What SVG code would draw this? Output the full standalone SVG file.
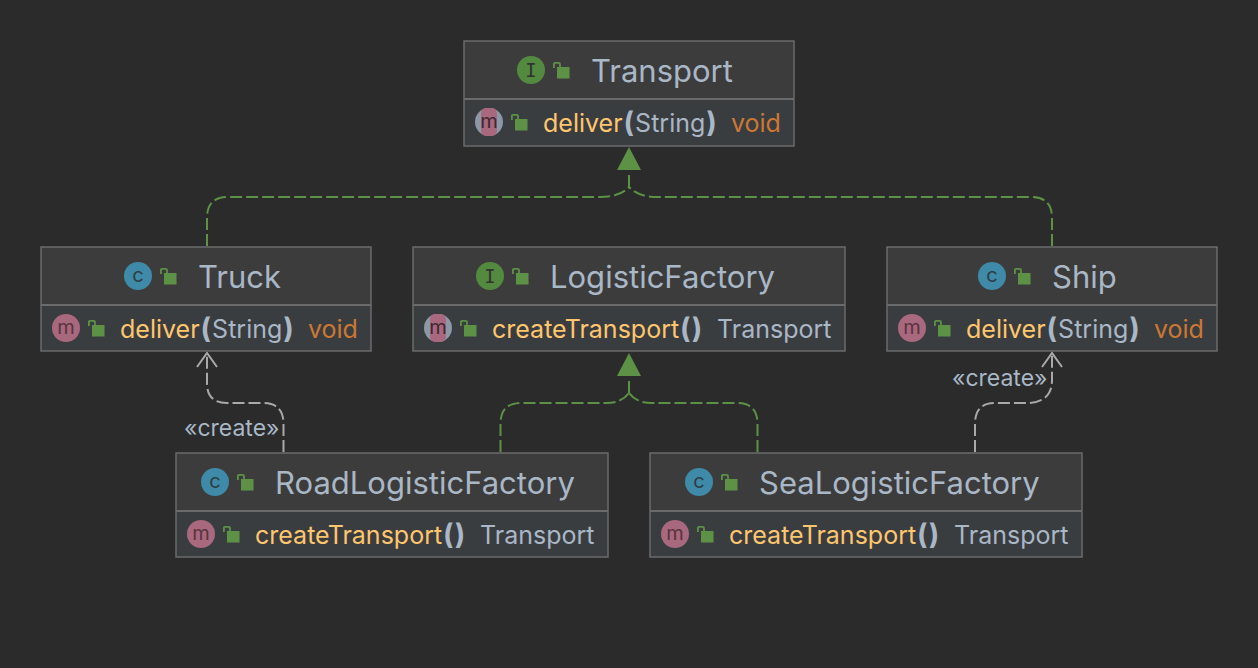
<svg xmlns="http://www.w3.org/2000/svg" width="1258" height="668" viewBox="0 0 1258 668">
<style>
text{font-family:"Inter","Noto Sans","Liberation Sans",sans-serif}
.box{fill:#3a3d40;stroke:#6b6b6b;stroke-width:1.5}
.head{fill:#3c3c3c}
.div{stroke:#6b6b6b;stroke-width:2}
.title{font-size:31px;fill:#a9b7c6}
.m{font-size:25px;fill:#ffc66d}
.p{font-size:25px;fill:#a9b7c6}
.b{font-size:28px;fill:#a9b7c6;font-weight:700}
.v{font-size:25px;fill:#cc7832}
.st{font-size:23px;fill:#a9b7c6}
.g{fill:none;stroke:#5c9146;stroke-width:2;stroke-dasharray:12 4}
.w{fill:none;stroke:#a9a9a9;stroke-width:2;stroke-dasharray:12 4}
.gl{fill:#5c9146;stroke:none}
.o{fill:none;stroke:#a9a9a9;stroke-width:2}
text.ig{font-size:20px;text-anchor:middle}
text.ii{font-family:"DejaVu Sans Mono","Liberation Mono",monospace;font-size:19px;text-anchor:middle}
</style>
<defs>
<g id="lock"><path d="M0.9 6V1.8Q0.9 0.9 2 0.9H5.500Q7 0.9 7 2.200V5" fill="none" stroke="#5c9146" stroke-width="1.800"/><rect x="4" y="5" width="12.500" height="11.500" fill="#5c9146"/></g>
<g id="ci"><circle r="14" fill="#548a3f"/><text class="ii" y="6.500" fill="#333">I</text></g>
<g id="cc"><circle r="14" fill="#3e8aa8"/><text class="ig" y="6" fill="#2f3d44">c</text></g>
<g id="cm"><circle r="14" fill="#a8687e"/><text class="ig" y="6" fill="#5a333f">m</text></g>
<g id="ca"><circle r="14" fill="#8b98a6"/><rect x="-8" y="-14" width="16" height="28" rx="5" fill="#a8687e"/><text class="ig" y="6" fill="#3f2730">m</text></g>
</defs>
<rect width="1258" height="668" fill="#2b2b2b"/>
<g id="connectors">
<path class="g" d="M207 246V218Q207 197 228 197H600Q620 197 629 187"/>
<path class="g" d="M1052 246V218Q1052 197 1031 197H658Q638 197 629 187"/>
<path class="g" d="M629 187V172"/>
<path class="gl" d="M629 147L641 170H617Z"/>
<path class="g" d="M500.500 452V424Q500.500 403 521 403H606Q622 403 629 393"/>
<path class="g" d="M757.500 452V424Q757.500 403 737 403H652Q636 403 629 393"/>
<path class="g" d="M629 393V378"/>
<path class="gl" d="M629 353L641 376H617Z"/>
<path class="w" d="M283.500 452V424Q283.500 403 263 403H227Q207 403 207 383V353"/>
<path class="o" d="M197 367L207 353L217 367"/>
<path class="w" d="M975 452V424Q975 403 995 403H1030Q1052 401 1052 380V353"/>
<path class="o" d="M1042 367L1052 353L1062 367"/>
<text class="st" x="184" y="436">«create»</text>
<text class="st" x="952" y="386">«create»</text>
</g>
<g id="transport">
<rect class="box" x="464" y="41" width="330" height="105"/><rect class="head" x="465" y="42" width="328" height="57"/><path class="div" d="M464 99H794"/>
<use href="#ci" x="531" y="70"/><use href="#lock" x="553" y="62"/><text class="title" x="591" y="82">Transport</text>
<use href="#ca" x="489" y="122"/><use href="#lock" x="511" y="114"/>
<text x="543" y="132" class="m">deliver<tspan class="b" dx="1">(</tspan><tspan class="p" dx="1">String</tspan><tspan class="b" dx="1">)</tspan></text><text class="v" x="731" y="132">void</text>
</g>
<g id="truck">
<rect class="box" x="41" y="247" width="330" height="104"/><rect class="head" x="42" y="248" width="328" height="57"/><path class="div" d="M41 305H371"/>
<use href="#cc" x="138" y="276"/><use href="#lock" x="160" y="268"/><text class="title" x="198" y="288">Truck</text>
<use href="#cm" x="66" y="328"/><use href="#lock" x="88" y="320"/>
<text x="120" y="338" class="m">deliver<tspan class="b" dx="1">(</tspan><tspan class="p" dx="1">String</tspan><tspan class="b" dx="1">)</tspan></text><text class="v" x="308" y="338">void</text>
</g>
<g id="logistic-factory">
<rect class="box" x="413" y="247" width="432" height="104"/><rect class="head" x="414" y="248" width="430" height="57"/><path class="div" d="M413 305H845"/>
<use href="#ci" x="490" y="276"/><use href="#lock" x="512" y="268"/><text class="title" x="550" y="288">LogisticFactory</text>
<use href="#ca" x="438" y="328"/><use href="#lock" x="460" y="320"/>
<text x="492" y="338" class="m">createTransport<tspan class="b" dx="1" letter-spacing="1">()</tspan></text><text class="p" x="717" y="338">Transport</text>
</g>
<g id="ship">
<rect class="box" x="887" y="247" width="330" height="104"/><rect class="head" x="888" y="248" width="328" height="57"/><path class="div" d="M887 305H1217"/>
<use href="#cc" x="992" y="276"/><use href="#lock" x="1014" y="268"/><text class="title" x="1052" y="288">Ship</text>
<use href="#cm" x="912" y="328"/><use href="#lock" x="934" y="320"/>
<text x="966" y="338" class="m">deliver<tspan class="b" dx="1">(</tspan><tspan class="p" dx="1">String</tspan><tspan class="b" dx="1">)</tspan></text><text class="v" x="1154" y="338">void</text>
</g>
<g id="road-logistic-factory">
<rect class="box" x="176" y="453" width="432" height="104"/><rect class="head" x="177" y="454" width="430" height="57"/><path class="div" d="M176 511H608"/>
<use href="#cc" x="215" y="482"/><use href="#lock" x="237" y="474"/><text class="title" x="275" y="494">RoadLogisticFactory</text>
<use href="#cm" x="201" y="534"/><use href="#lock" x="223" y="526"/>
<text x="255" y="544" class="m">createTransport<tspan class="b" dx="1" letter-spacing="1">()</tspan></text><text class="p" x="480" y="544">Transport</text>
</g>
<g id="sea-logistic-factory">
<rect class="box" x="650" y="453" width="432" height="104"/><rect class="head" x="651" y="454" width="430" height="57"/><path class="div" d="M650 511H1082"/>
<use href="#cc" x="699" y="482"/><use href="#lock" x="721" y="474"/><text class="title" x="759" y="494">SeaLogisticFactory</text>
<use href="#cm" x="675" y="534"/><use href="#lock" x="697" y="526"/>
<text x="729" y="544" class="m">createTransport<tspan class="b" dx="1" letter-spacing="1">()</tspan></text><text class="p" x="954" y="544">Transport</text>
</g>
</svg>
